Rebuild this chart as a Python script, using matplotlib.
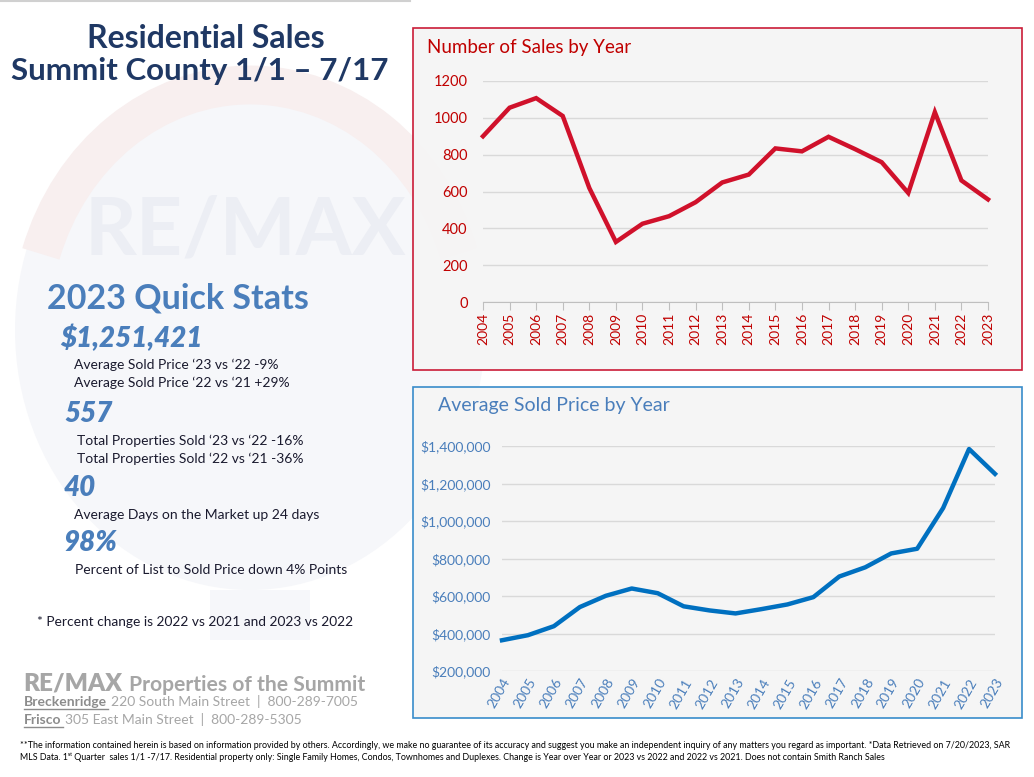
import numpy as np
import matplotlib
matplotlib.use('Agg')
import matplotlib.pyplot as plt
from matplotlib.patches import Rectangle, Ellipse, Arc
from matplotlib.ticker import FuncFormatter

plt.rcParams['font.family'] = ['Lato', 'DejaVu Sans']

years = list(range(2004, 2024))
sales = [900, 1055, 1107, 1010, 619, 326, 425, 466, 542, 649,
         692, 834, 818, 897, 830, 759, 592, 1031, 660, 557]
avg_price = [364000, 391000, 439000, 541000, 601000, 640000, 615000, 545000, 523000, 507000,
             530000, 555000, 594000, 704000, 753000, 827000, 852000, 1069000, 1384000, 1251421]

stats = [
    ("$1,251,421", ["Average Sold Price \u201823 vs \u201822 -9%",
                    "Average Sold Price \u201822 vs \u201821 +29%"]),
    ("557", ["Total Properties Sold \u201823 vs \u201822 -16%",
             "Total Properties Sold \u201822 vs \u201821 -36%"]),
    ("40", ["Average Days on the Market up 24 days"]),
    ("98%", ["Percent of List to Sold Price down 4% Points"]),
]

W, H = 1034, 777
NAVY = '#1f3864'
STAT_BLUE = '#4a7ebb'
RED = '#d0112b'
RED_TXT = '#c00000'
BLUE = '#0070c0'
GRAY = '#a6a6a6'


def fx(x):
    return x / W


def fy(y):
    return 1 - y / H


def box(x0, y0, x1, y1):
    return [fx(x0), fy(y1), fx(x1) - fx(x0), fy(y0) - fy(y1)]


fig = plt.figure(figsize=(W / 100, H / 100), dpi=100)
fig.patch.set_facecolor('white')

# faint balloon watermark behind everything
bg = fig.add_axes([0, 0, 1, 1])
bg.set_xlim(0, W)
bg.set_ylim(H, 0)
bg.axis('off')
bg.add_patch(Ellipse((250, 330), 470, 520, facecolor='#f6f7fa', edgecolor='none', zorder=0))
bg.add_patch(Arc((250, 330), 440, 490, theta1=200, theta2=340, color='#f8efef', lw=28, zorder=1))
bg.text(245, 232, "RE/MAX", fontsize=58, fontweight='bold', color='#eceef4',
        ha='center', va='center', zorder=2)
bg.add_patch(Rectangle((210, 590), 100, 50, facecolor='#f6f7fa', edgecolor='none', zorder=1))
bg.plot([0, 410], [1, 1], color='#d0d0d0', lw=1.5)

# left column text
fig.text(fx(206), fy(38), "Residential Sales", fontsize=23, fontweight='bold',
         color=NAVY, ha='center', va='center')
fig.text(fx(200), fy(71), "Summit County 1/1 \u2013 7/17", fontsize=22.5, fontweight='bold',
         color=NAVY, ha='center', va='center')
fig.text(fx(47), fy(298), "2023 Quick Stats", fontsize=24.5, fontweight='bold',
         color=STAT_BLUE, ha='left', va='center')

big_y = [338, 414, 488, 543]
big_x = [60, 64, 64, 64]
small_x = [74, 77, 74, 75]
for (big, lines), y, bx, sx in zip(stats, big_y, big_x, small_x):
    fig.text(fx(bx), fy(y), big, fontsize=20, fontweight='heavy', style='italic',
             color=STAT_BLUE, ha='left', va='center')
    for i, line in enumerate(lines):
        fig.text(fx(sx), fy(y + 27 + 18 * i), line, fontsize=10,
                 color='#1a1a2e', ha='left', va='center')

fig.text(fx(37), fy(622), "* Percent change is 2022 vs 2021 and 2023 vs 2022",
         fontsize=9.9, color='#1a1a2e', ha='left', va='center')

# office block
fig.text(fx(23), fy(684), "RE/MAX", fontsize=17.5, fontweight='heavy', color=GRAY,
         ha='left', va='center')
fig.text(fx(129), fy(685), "Properties of the Summit", fontsize=15.2, fontweight='bold',
         color=GRAY, ha='left', va='center')
fig.text(fx(24), fy(702), "Breckenridge", fontsize=10, fontweight='bold', color='#8c8c8c',
         ha='left', va='center')
fig.text(fx(111), fy(702), "220 South Main Street  |  800-289-7005", fontsize=10,
         color=GRAY, ha='left', va='center')
fig.text(fx(24), fy(720), "Frisco", fontsize=10, fontweight='bold', color='#8c8c8c',
         ha='left', va='center')
fig.text(fx(65), fy(720), "305 East Main Street  |  800-289-5305", fontsize=10,
         color=GRAY, ha='left', va='center')
bg.plot([24, 108], [709, 709], color='#8c8c8c', lw=1)
bg.plot([24, 63], [727, 727], color='#8c8c8c', lw=1)

# footer disclaimer
fig.text(fx(20), fy(746),
         "**The information contained herein is based on information provided by others. "
         "Accordingly, we make no guarantee of its accuracy and suggest you make an independent "
         "inquiry of any matters you regard as important. *Data Retrieved on 7/20/2023, SAR",
         fontsize=6.4, color='black', ha='left', va='center')
fig.text(fx(20), fy(757),
         "MLS Data. 1\u02e2\u1d57 Quarter  sales 1/1 -7/17. Residential property only: Single Family "
         "Homes, Condos, Townhomes and Duplexes. Change is Year over Year or 2023 vs 2022 and "
         "2022 vs 2021. Does not contain Smith Ranch Sales",
         fontsize=6.4, color='black', ha='left', va='center')

# chart panels
bg.add_patch(Rectangle((413, 28), 609, 342, facecolor='#f5f5f5', edgecolor='#c8102e',
                       lw=1.2, alpha=0.95, zorder=3))
bg.add_patch(Rectangle((413, 387), 609, 331, facecolor='#f5f5f5', edgecolor='#2e86c8',
                       lw=1.2, alpha=0.95, zorder=3))
bg.text(427, 48, "Number of Sales by Year", fontsize=13.5, color=RED_TXT,
        ha='left', va='center', zorder=4)
bg.text(438, 405, "Average Sold Price by Year", fontsize=14, color=STAT_BLUE,
        ha='left', va='center', zorder=4)

# number of sales
ax1 = fig.add_axes(box(483, 81, 988, 302))
ax1.patch.set_alpha(0)
ax1.plot(years, sales, color=RED, lw=3.2, solid_joinstyle='miter', clip_on=False, zorder=3)
ax1.set_xlim(2004, 2023)
ax1.set_ylim(0, 1200)
ax1.set_yticks(range(0, 1201, 200))
ax1.set_xticks(years)
ax1.set_xticklabels([str(y) for y in years], rotation=90, fontsize=10, color=RED_TXT)
ax1.tick_params(axis='y', length=0, labelsize=10.5, labelcolor=RED_TXT, pad=11)
ax1.tick_params(axis='x', length=6, color='#bfbfbf', direction='out', pad=2)
ax1.grid(axis='y', color='#d9d9d9', lw=1)
for s in ['top', 'right', 'left']:
    ax1.spines[s].set_visible(False)
ax1.spines['bottom'].set_color('#bfbfbf')

# average sold price
ax2 = fig.add_axes(box(502, 446, 995, 671))
ax2.patch.set_alpha(0)
ax2.plot(years, avg_price, color=BLUE, lw=3.2, clip_on=False, zorder=3)
ax2.set_xlim(2004, 2023)
ax2.set_ylim(200000, 1400000)
ax2.set_yticks(range(200000, 1400001, 200000))
ax2.yaxis.set_major_formatter(FuncFormatter(lambda v, p: "${:,.0f}".format(v)))
ax2.set_xticks(years)
ax2.set_xticklabels([str(y) for y in years], rotation=60, ha='right',
                    rotation_mode='anchor', fontsize=10, color=STAT_BLUE)
ax2.tick_params(axis='y', length=0, labelsize=10, labelcolor=STAT_BLUE, pad=8)
ax2.tick_params(axis='x', length=0, pad=4)
ax2.grid(axis='y', color='#d9d9d9', lw=1)
for s in ax2.spines.values():
    s.set_visible(False)

fig.savefig('out.png', dpi=100, facecolor='white')
